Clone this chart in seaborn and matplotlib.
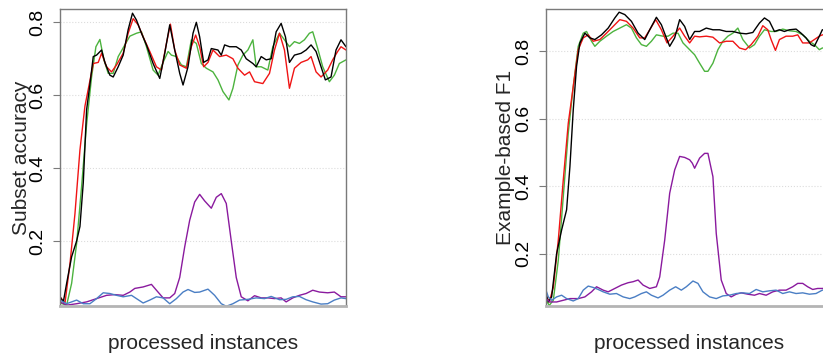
import numpy as np
import pandas as pd
import matplotlib
matplotlib.use("Agg")
import matplotlib.pyplot as plt
import seaborn as sns

# ---- data (x = processed instances, arbitrary units 0..860) ----
# left panel: subset accuracy
sa_black_x = [0, 10, 20, 35, 50, 60, 70, 80, 90, 100, 110, 125, 135, 150, 160, 175, 190, 205, 218, 230,
              245, 260, 280, 300, 315, 330, 345, 360, 370, 385, 400, 410, 420, 432, 445, 455, 475, 485, 495, 510,
              530, 545, 560, 580, 590, 605, 620, 635, 650, 665, 678, 690, 705, 725, 740, 755, 770, 785, 798, 815,
              830, 845, 860]
sa_black_y = [.047, .033, .084, .157, .20, .24, .36, .56, .63, .706, .71, .724, .69, .655, .65, .678, .71, .78, .825, .806,
              .77, .738, .687, .646, .715, .793, .724, .66, .628, .678, .77, .80, .76, .69, .697, .728, .724, .71, .738, .733,
              .733, .724, .70, .687, .678, .706, .697, .70, .774, .797, .76, .69, .71, .715, .724, .738, .72, .678, .642, .65,
              .724, .752, .733]

sa_red_x = [0, 15, 30, 45, 60, 75, 90, 100, 115, 125, 140, 155, 170, 190, 205, 220, 235, 250, 270, 290,
            305, 320, 332, 345, 360, 380, 395, 408, 420, 432, 445, 460, 480, 500, 520, 535, 555, 570, 585, 610,
            630, 645, 660, 675, 690, 705, 725, 745, 755, 770, 785, 805, 820, 835, 845, 860]
sa_red_y = [.047, .03, .138, .275, .45, .57, .64, .687, .69, .715, .678, .664, .683, .715, .77, .81, .793, .76, .72, .678,
            .669, .742, .795, .724, .683, .674, .733, .765, .733, .678, .69, .724, .706, .71, .70, .674, .655, .664, .637, .632,
            .66, .724, .77, .724, .619, .674, .69, .697, .706, .664, .65, .669, .697, .72, .733, .724]

sa_green_x = [0, 20, 35, 50, 65, 80, 95, 108, 120, 132, 145, 160, 175, 195, 210, 230, 245, 260, 280, 295,
              310, 325, 335, 350, 365, 380, 395, 410, 425, 440, 460, 475, 490, 508, 520, 535, 550, 565, 580, 590,
              605, 625, 640, 660, 675, 690, 705, 720, 735, 750, 760, 775, 790, 810, 825, 840, 860]
sa_green_y = [.03, .024, .084, .193, .35, .52, .65, .733, .753, .697, .66, .66, .706, .738, .762, .77, .774, .733, .669, .655,
              .69, .72, .71, .706, .683, .678, .752, .742, .687, .674, .664, .642, .61, .587, .619, .683, .71, .724, .752, .678,
              .678, .669, .733, .77, .752, .733, .747, .742, .752, .77, .774, .728, .678, .637, .655, .687, .697]

sa_purple_x = [0, 20, 50, 80, 110, 140, 165, 190, 210, 225, 250, 275, 290, 310, 330, 345, 360, 375, 390, 405,
               420, 435, 455, 470, 485, 500, 515, 530, 545, 565, 585, 605, 625, 645, 665, 680, 700, 720, 740, 760,
               780, 805, 825, 845, 860]
sa_purple_y = [.033, .024, .028, .033, .042, .051, .053, .051, .06, .07, .074, .081, .065, .044, .044, .056, .10, .184, .257, .307,
               .328, .31, .29, .32, .33, .303, .20, .10, .047, .036, .05, .044, .044, .042, .044, .033, .044, .051, .056, .065,
               .06, .058, .06, .047, .047]

sa_blue_x = [0, 20, 50, 70, 90, 110, 130, 150, 170, 190, 215, 230, 250, 270, 290, 310, 330, 350, 370, 385,
             405, 420, 445, 465, 485, 500, 520, 540, 565, 590, 615, 635, 660, 680, 700, 720, 740, 760, 785, 805,
             825, 845, 860]
sa_blue_y = [.038, .028, .038, .028, .028, .042, .058, .056, .051, .047, .051, .042, .03, .038, .047, .044, .028, .042, .06, .067,
             .059, .06, .068, .051, .028, .021, .028, .038, .04, .044, .042, .048, .039, .04, .047, .048, .039, .033, .027, .028,
             .038, .044, .042]

# right panel: example-based F1
f1_black_x = [0, 7, 17, 32, 47, 62, 72, 82, 92, 102, 117, 132, 147, 167, 187, 207, 220, 237, 257, 277,
              297, 312, 332, 347, 362, 372, 387, 402, 417, 432, 447, 462, 482, 502, 522, 542, 562, 582, 602, 622,
              642, 657, 672, 687, 702, 717, 732, 752, 767, 782, 797, 807, 822, 831, 860]
f1_black_y = [.082, .057, .072, .20, .27, .33, .458, .626, .755, .824, .853, .839, .834, .848, .868, .898, .915, .908, .888, .853,
              .834, .863, .90, .878, .839, .814, .839, .893, .873, .834, .858, .858, .868, .863, .863, .858, .858, .853, .851, .855,
              .883, .898, .888, .858, .863, .858, .863, .865, .853, .839, .819, .814, .844, .863, .86]

f1_red_x = [0, 10, 22, 37, 52, 67, 82, 97, 112, 127, 142, 162, 182, 202, 222, 242, 262, 282, 297, 312,
            330, 347, 364, 382, 402, 417, 432, 447, 462, 482, 502, 522, 542, 562, 582, 600, 617, 637, 652, 667,
            677, 690, 702, 722, 742, 757, 772, 792, 807, 822, 831, 860]
f1_red_y = [.077, .057, .10, .24, .418, .586, .695, .804, .839, .848, .829, .834, .853, .873, .893, .888, .868, .839, .839, .863,
            .893, .863, .824, .844, .868, .844, .824, .844, .842, .844, .841, .824, .829, .829, .809, .804, .819, .844, .875, .863,
            .834, .802, .834, .844, .844, .848, .824, .824, .834, .844, .848, .845]

f1_green_x = [0, 10, 22, 37, 52, 67, 82, 97, 112, 122, 137, 147, 162, 182, 202, 222, 242, 257, 272, 287,
              302, 317, 332, 352, 367, 382, 397, 412, 432, 447, 462, 477, 487, 502, 517, 532, 547, 562, 577, 592,
              612, 627, 642, 657, 677, 692, 712, 732, 752, 772, 792, 807, 822, 831, 860]
f1_green_y = [.062, .047, .062, .18, .369, .557, .695, .814, .853, .858, .829, .814, .829, .844, .858, .868, .878, .868, .839, .819,
              .814, .829, .848, .844, .844, .853, .853, .824, .804, .789, .764, .74, .74, .764, .804, .829, .844, .853, .868, .834,
              .809, .819, .844, .863, .858, .858, .865, .86, .858, .848, .829, .819, .804, .809, .81]

f1_purple_x = [0, 12, 32, 52, 72, 97, 117, 137, 152, 172, 187, 207, 227, 247, 262, 277, 292, 312, 332, 342,
               357, 372, 387, 402, 417, 432, 440, 447, 462, 477, 487, 502, 512, 527, 542, 557, 572, 587, 607, 627,
               642, 662, 682, 702, 722, 742, 757, 772, 787, 802, 817, 831, 860]
f1_purple_y = [.067, .057, .057, .062, .067, .067, .072, .087, .102, .092, .087, .097, .107, .114, .117, .122, .107, .097, .102, .131,
               .24, .379, .448, .488, .485, .478, .468, .453, .483, .497, .497, .428, .26, .122, .082, .072, .08, .084, .08, .077,
               .082, .077, .087, .092, .092, .102, .112, .112, .102, .094, .097, .097, .10]

f1_blue_x = [0, 7, 17, 32, 47, 62, 82, 97, 112, 127, 142, 157, 172, 192, 212, 232, 252, 267, 287, 302,
             317, 337, 352, 372, 390, 407, 422, 442, 457, 472, 492, 512, 532, 552, 572, 592, 612, 632, 652, 672,
             692, 712, 732, 752, 772, 792, 812, 831, 860]
f1_blue_y = [.092, .072, .062, .072, .077, .067, .06, .067, .092, .104, .10, .094, .087, .08, .082, .072, .067, .072, .082, .087,
             .077, .069, .077, .092, .102, .092, .102, .119, .112, .087, .072, .067, .075, .077, .082, .084, .082, .094, .087, .09,
             .092, .082, .087, .082, .084, .08, .082, .092, .095]

methods = ["green", "red", "black", "purple", "blue"]
colors = {"black": "#000000", "red": "#f01414", "green": "#4cb33e", "purple": "#8a1a9e", "blue": "#4a7ec4"}
yticks = [0.2, 0.4, 0.6, 0.8]


def long_frame(series):
    parts = []
    for name, (xs, ys) in series.items():
        parts.append(pd.DataFrame({"inst": xs, "val": ys, "method": name}))
    return pd.concat(parts, ignore_index=True)


df_sa = long_frame({"black": (sa_black_x, sa_black_y), "red": (sa_red_x, sa_red_y),
                    "green": (sa_green_x, sa_green_y), "purple": (sa_purple_x, sa_purple_y),
                    "blue": (sa_blue_x, sa_blue_y)})
df_f1 = long_frame({"black": (f1_black_x, f1_black_y), "red": (f1_red_x, f1_red_y),
                    "green": (f1_green_x, f1_green_y), "purple": (f1_purple_x, f1_purple_y),
                    "blue": (f1_blue_x, f1_blue_y)})

sns.set_theme(style="white")
plt.rcParams["font.family"] = ["Liberation Sans", "DejaVu Sans"]

fig = plt.figure(figsize=(8.23, 3.53), dpi=100)
ax1 = fig.add_axes([0.0729, 0.1331, 0.3475, 0.8414])
ax2 = fig.add_axes([0.6634, 0.1331, 0.3475, 0.8414])

panels = [(ax1, df_sa, "Subset accuracy", (0.0217, 0.8365), -0.103),
          (ax2, df_f1, "Example-based F1", (0.045, 0.9245), -0.108)]

for ax, df, ylab, ylim, labx in panels:
    for y in yticks:
        ax.axhline(y, color="#dcdcdc", lw=0.8, ls=":", zorder=0)
    sns.lineplot(data=df, x="inst", y="val", hue="method", hue_order=methods,
                 palette=colors, estimator=None, sort=True, lw=1.0, legend=False, ax=ax)
    ax.set_xlim(0, 860)
    ax.set_ylim(*ylim)
    ax.set_xticks([])
    ax.set_yticks(yticks)
    ax.set_yticklabels([f"{v:.1f}" for v in yticks], rotation=90, va="center")
    ax.tick_params(axis="y", left=True, length=5, width=0.8, color="#7a7a7a",
                   pad=5, labelsize=14, labelcolor="black")
    ax.set_xlabel("processed instances", fontsize=15, labelpad=20)
    ax.set_ylabel(ylab, fontsize=15)
    ax.yaxis.set_label_coords(labx, 0.5)
    for side in ["top", "right", "left"]:
        ax.spines[side].set_color("#7a7a7a")
        ax.spines[side].set_linewidth(1.0)
    ax.spines["bottom"].set_color("#b4b4b4")
    ax.spines["bottom"].set_linewidth(2.0)

fig.savefig("out.png", dpi=100)
